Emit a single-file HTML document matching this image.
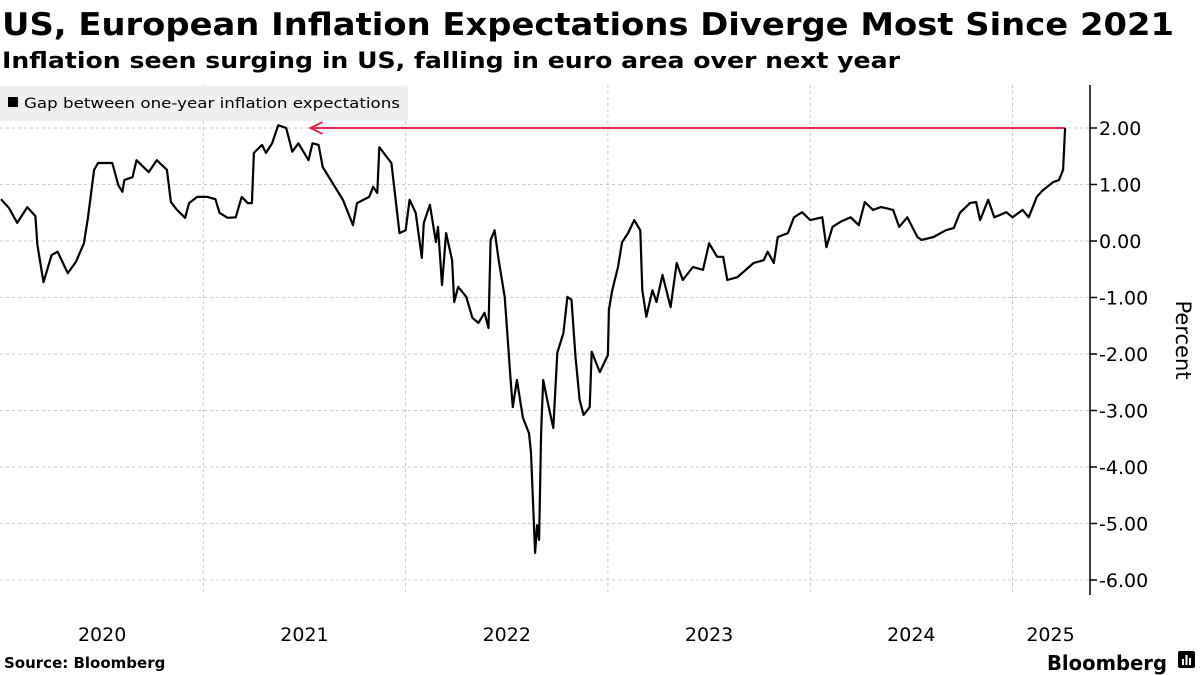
<!DOCTYPE html>
<html><head><meta charset="utf-8"><style>
html,body{margin:0;padding:0;background:#fff;}
svg{display:block;}
</style></head><body>
<svg id="chart" width="1200" height="675" viewBox="0 0 1200 675" xmlns="http://www.w3.org/2000/svg">
<text x="2" y="35" font-family="DejaVu Sans, sans-serif" font-weight="bold" font-size="31" textLength="1172" lengthAdjust="spacingAndGlyphs" fill="#000">US, European Inflation Expectations Diverge Most Since 2021</text>
<text x="2" y="68" font-family="DejaVu Sans, sans-serif" font-weight="bold" font-size="22" textLength="898" lengthAdjust="spacingAndGlyphs" fill="#000">Inflation seen surging in US, falling in euro area over next year</text>
<g id="grid"></g>
<g id="axes"></g>
<rect x="0" y="86" width="408" height="35" fill="#efefef"/>
<rect x="8" y="97" width="10" height="10" fill="#000"/>
<text x="24" y="108" font-family="DejaVu Sans, sans-serif" font-size="14.5" textLength="376" lengthAdjust="spacingAndGlyphs" fill="#000">Gap between one-year inflation expectations</text>
<g id="series"></g>
<text transform="translate(1176,340) rotate(90)" text-anchor="middle" font-family="DejaVu Sans, sans-serif" font-size="21" fill="#000">Percent</text>
<text x="4" y="668" font-family="DejaVu Sans, sans-serif" font-weight="bold" font-size="15" fill="#000">Source: Bloomberg</text>
<text x="1047" y="670" font-family="DejaVu Sans, sans-serif" font-weight="bold" font-size="20" textLength="120" lengthAdjust="spacingAndGlyphs" fill="#000">Bloomberg</text>
<g><rect x="1178" y="651" width="17" height="17" rx="2" fill="#000"/><rect x="1182" y="659" width="2" height="6" fill="#fff"/><rect x="1185.5" y="655" width="2" height="10" fill="#fff"/><rect x="1189" y="658" width="2" height="7" fill="#fff"/></g>
</svg>
<script>
const dates=[2020.00,2020.04,2020.08,2020.13,2020.17,2020.18,2020.21,2020.25,2020.28,2020.33,2020.37,2020.41,2020.43,2020.46,2020.48,2020.55,2020.58,2020.60,2020.61,2020.65,2020.67,2020.73,2020.77,2020.82,2020.84,2020.87,2020.91,2020.93,2020.97,2021.02,2021.06,2021.08,2021.12,2021.16,2021.19,2021.22,2021.24,2021.25,2021.29,2021.31,2021.34,2021.37,2021.41,2021.44,2021.47,2021.52,2021.54,2021.57,2021.59,2021.63,2021.69,2021.74,2021.76,2021.82,2021.84,2021.86,2021.87,2021.93,2021.97,2022.00,2022.02,2022.05,2022.08,2022.09,2022.12,2022.15,2022.16,2022.18,2022.20,2022.23,2022.24,2022.26,2022.30,2022.33,2022.36,2022.39,2022.41,2022.42,2022.44,2022.46,2022.49,2022.52,2022.53,2022.55,2022.58,2022.61,2022.62,2022.64,2022.65,2022.66,2022.67,2022.68,2022.70,2022.73,2022.75,2022.78,2022.80,2022.82,2022.84,2022.86,2022.88,2022.91,2022.92,2022.96,2023.00,2023.005,2023.02,2023.05,2023.07,2023.10,2023.13,2023.16,2023.17,2023.19,2023.22,2023.24,2023.27,2023.31,2023.34,2023.37,2023.42,2023.47,2023.50,2023.54,2023.57,2023.59,2023.64,2023.72,2023.77,2023.79,2023.82,2023.84,2023.89,2023.92,2023.96,2024.00,2024.06,2024.08,2024.11,2024.15,2024.20,2024.24,2024.27,2024.31,2024.35,2024.41,2024.44,2024.48,2024.53,2024.55,2024.61,2024.67,2024.71,2024.74,2024.79,2024.82,2024.84,2024.88,2024.91,2024.97,2025.00,2025.05,2025.08,2025.12,2025.15,2025.20,2025.23,2025.25,2025.26];
const gapValues=[0.74,0.58,0.32,0.60,0.44,-0.07,-0.73,-0.25,-0.19,-0.57,-0.37,-0.04,0.42,1.26,1.38,1.38,0.99,0.87,1.08,1.13,1.43,1.22,1.43,1.26,0.69,0.55,0.41,0.67,0.78,0.78,0.74,0.50,0.41,0.42,0.78,0.67,0.67,1.56,1.70,1.56,1.73,2.05,2.00,1.58,1.73,1.43,1.73,1.70,1.31,1.08,0.73,0.28,0.67,0.78,0.96,0.85,1.66,1.38,0.14,0.19,0.73,0.50,-0.30,0.32,0.64,-0.02,0.25,-0.78,0.14,-0.34,-1.08,-0.81,-0.99,-1.36,-1.45,-1.27,-1.54,0.02,0.19,-0.34,-0.99,-2.50,-2.94,-2.46,-3.13,-3.40,-3.75,-5.52,-5.03,-5.29,-3.40,-2.46,-2.81,-3.31,-1.98,-1.63,-0.99,-1.04,-2.05,-2.81,-3.08,-2.94,-1.96,-2.32,-2.02,-1.22,-0.90,-0.46,-0.02,0.14,0.37,0.19,-0.87,-1.34,-0.87,-1.08,-0.60,-1.17,-0.39,-0.69,-0.46,-0.51,-0.04,-0.28,-0.28,-0.69,-0.64,-0.39,-0.34,-0.19,-0.39,0.07,0.14,0.42,0.51,0.37,0.42,-0.11,0.25,0.34,0.42,0.28,0.69,0.55,0.60,0.55,0.25,0.42,0.07,0.02,0.07,0.19,0.23,0.50,0.67,0.69,0.37,0.73,0.42,0.51,0.42,0.55,0.42,0.78,0.90,1.04,1.08,1.26,2.00];
const yTicks=[2,1,0,-1,-2,-3,-4,-5,-6];
const yTickLabels=["2.00","1.00","0.00","-1.00","-2.00","-3.00","-4.00","-5.00","-6.00"];
const xYears=[2020,2021,2022,2023,2024,2025];
const xYearLabels=["2020","2021","2022","2023","2024","2025"];
const annotationLevel=[2.0];
const annotationStart=[2021.53];

const NS="http://www.w3.org/2000/svg";
const xS=t=>1+(t-2020)*202.3;
const yS=v=>241-v*56.5;
function mk(tag,attrs,parent){const e=document.createElementNS(NS,tag);for(const k in attrs)e.setAttribute(k,attrs[k]);parent.appendChild(e);return e;}
const grid=document.getElementById('grid'),axes=document.getElementById('axes'),series=document.getElementById('series');
yTicks.forEach((v,i)=>{
  const g=mk('line',{x1:0,x2:1090,y1:yS(v),y2:yS(v),stroke:'#c8c8c8','stroke-width':1,'stroke-dasharray':'3,3'},grid);
  
  
  const tk=mk('line',{x1:1090,x2:1097,y1:yS(v),y2:yS(v),stroke:'#000','stroke-width':1.5},axes);
  
  
  const t=mk('text',{x:1099,y:yS(v)+7,'font-family':'DejaVu Sans, sans-serif','font-size':19,fill:'#000'},axes);
  t.textContent=yTickLabels[i];
  
  
});
xYears.forEach((yr,i)=>{
  if(yr>2020){
    const g=mk('line',{x1:xS(yr),x2:xS(yr),y1:85,y2:595,stroke:'#c8c8c8','stroke-width':1,'stroke-dasharray':'3,3'},grid);
    
    
  }
  const mid=yr===2025?xS(2025)+38:xS(yr+0.5);
  const t=mk('text',{x:mid,y:641,'text-anchor':'middle','font-family':'DejaVu Sans, sans-serif','font-size':19,fill:'#000'},axes);
  t.textContent=xYearLabels[i];
  
  
});
const ax=mk('line',{x1:1090,x2:1090,y1:85,y2:595,stroke:'#000','stroke-width':1.5},axes);


// annotation arrow
const ay=yS(annotationLevel[0]),ax0=xS(annotationStart[0]),ax1=xS(dates[dates.length-1]);
const al=mk('path',{d:`M${ax1},${ay} L${ax0},${ay} M${ax0+12},${ay-6} L${ax0},${ay} L${ax0+12},${ay+6}`,fill:'none',stroke:'#e8264f','stroke-width':2},series);


let d='';
dates.forEach((t,i)=>{d+=(i?'L':'M')+xS(t).toFixed(1)+','+yS(gapValues[i]).toFixed(1);});
const p=mk('path',{d:d,fill:'none',stroke:'#000','stroke-width':2.2,'stroke-linejoin':'round'},series);


</script>
</body></html>
